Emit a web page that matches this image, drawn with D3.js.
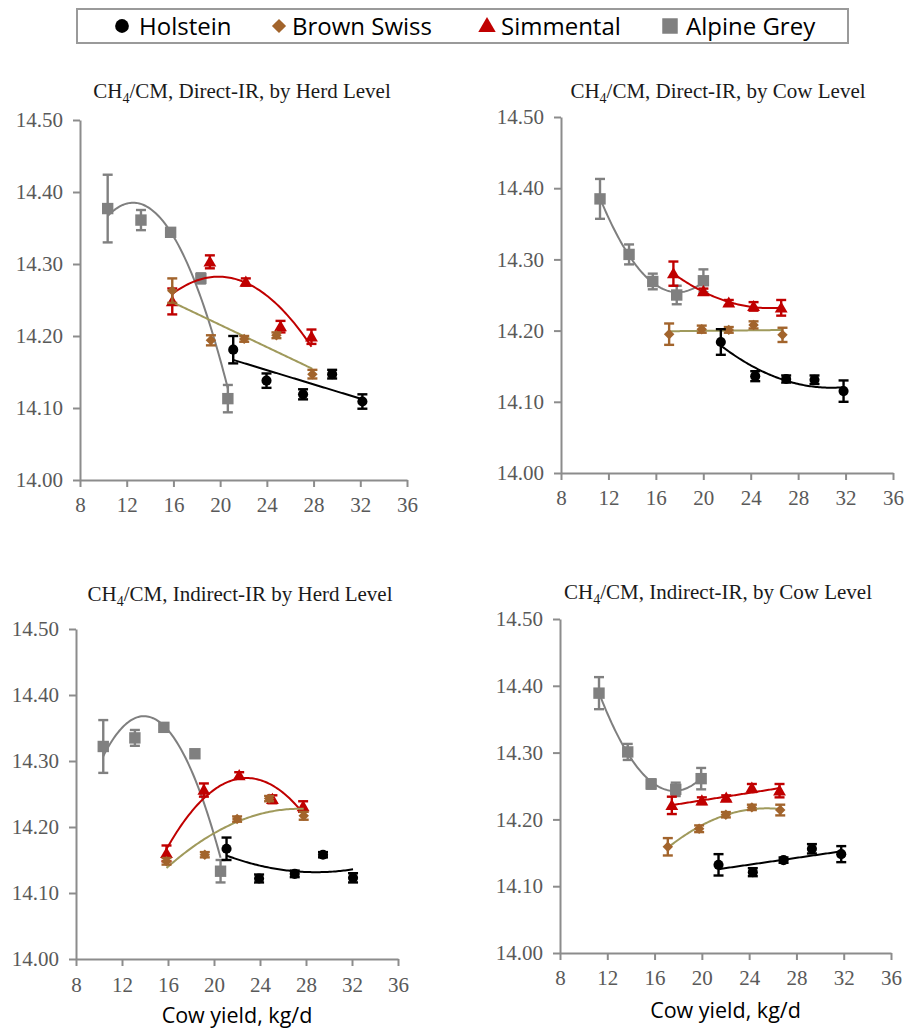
<!DOCTYPE html>
<html>
<head>
<meta charset="utf-8">
<script src="https://cdn.jsdelivr.net/npm/d3@7"></script>
<style>
  body { margin: 0; background: #fff; }
  svg { display: block; }
</style>
</head>
<body>
<svg id="chart"></svg>
<script>
// breeds and axis ticks
let breeds = ["Holstein", "Brown Swiss", "Simmental", "Alpine Grey"]
let xTicks = [8, 12, 16, 20, 24, 28, 32, 36]
let yTicks = [14.00, 14.10, 14.20, 14.30, 14.40, 14.50]
let xTitle = "Cow yield, kg/d"

// panel titles (the "4" is drawn as subscript)
let titleParts = [
  ["CH", "4", "/CM, Direct-IR, by Herd Level"],
  ["CH", "4", "/CM, Direct-IR, by Cow Level"],
  ["CH", "4", "/CM, Indirect-IR by Herd Level"],
  ["CH", "4", "/CM, Indirect-IR, by Cow Level"]
]

// [yield, CH4/CM, error] per breed and panel
let directHerdHolstein = [[21.12, 14.181, 0.019], [23.97, 14.138, 0.010], [27.10, 14.119, 0.007], [29.59, 14.147, 0.006], [32.18, 14.109, 0.010]]
let directHerdBrownSwiss = [[15.90, 14.263, 0.017], [19.21, 14.194, 0.007], [22.06, 14.196, 0.004], [24.82, 14.201, 0.004], [27.90, 14.147, 0.006]]
let directHerdSimmental = [[15.90, 14.248, 0.018], [19.12, 14.303, 0.009], [22.20, 14.275, 0.005], [25.17, 14.213, 0.008], [27.82, 14.199, 0.010]]
let directHerdAlpineGrey = [[10.37, 14.377, 0.047], [13.22, 14.361, 0.014], [15.76, 14.344, 0.003], [18.35, 14.280, 0.007], [20.66, 14.113, 0.019]]

let directCowHolstein = [[21.48, 14.184, 0.018], [24.38, 14.136, 0.007], [26.99, 14.132, 0.005], [29.38, 14.131, 0.006], [31.83, 14.115, 0.015]]
let directCowBrownSwiss = [[17.12, 14.195, 0.015], [19.87, 14.202, 0.005], [22.15, 14.201, 0.004], [24.24, 14.208, 0.005], [26.68, 14.194, 0.010]]
let directCowSimmental = [[17.48, 14.280, 0.017], [20.01, 14.255, 0.004], [22.15, 14.239, 0.004], [24.24, 14.234, 0.006], [26.57, 14.232, 0.011]]
let directCowAlpineGrey = [[11.29, 14.385, 0.028], [13.74, 14.307, 0.014], [15.74, 14.269, 0.011], [17.76, 14.250, 0.013], [20.01, 14.270, 0.016]]

let indirectHerdHolstein = [[21.09, 14.167, 0.017], [23.92, 14.122, 0.006], [27.02, 14.129, 0.005], [29.48, 14.158, 0.004], [32.09, 14.123, 0.007]]
let indirectHerdBrownSwiss = [[15.87, 14.148, 0.005], [19.20, 14.158, 0.004], [22.01, 14.212, 0.004], [24.79, 14.243, 0.004], [27.80, 14.217, 0.006]]
let indirectHerdSimmental = [[15.87, 14.160, 0.012], [19.12, 14.256, 0.010], [22.19, 14.278, 0.005], [25.08, 14.242, 0.006], [27.75, 14.231, 0.008]]
let indirectHerdAlpineGrey = [[10.37, 14.322, 0.040], [13.12, 14.335, 0.012], [15.64, 14.351, 0.003], [18.34, 14.311, 0.004], [20.57, 14.133, 0.017]]

let indirectCowHolstein = [[21.41, 14.132, 0.016], [24.31, 14.121, 0.006], [26.91, 14.139, 0.004], [29.31, 14.156, 0.007], [31.79, 14.148, 0.012]]
let indirectCowBrownSwiss = [[17.12, 14.159, 0.013], [19.77, 14.186, 0.005], [22.03, 14.207, 0.004], [24.23, 14.218, 0.004], [26.63, 14.214, 0.008]]
let indirectCowSimmental = [[17.46, 14.221, 0.013], [20.00, 14.228, 0.005], [22.06, 14.232, 0.004], [24.23, 14.247, 0.006], [26.57, 14.243, 0.010]]
let indirectCowAlpineGrey = [[11.30, 14.389, 0.024], [13.73, 14.301, 0.012], [15.71, 14.253, 0.007], [17.79, 14.245, 0.010], [19.94, 14.261, 0.016]]

// polynomial trend order per breed (Holstein, Brown Swiss, Simmental, Alpine Grey)
let directHerdOrder = [1, 1, 2, 2]
let directCowOrder = [2, 1, 2, 2]
let indirectHerdOrder = [2, 2, 2, 2]
let indirectCowOrder = [1, 2, 1, 2]

let panels = [
  { series: [directHerdHolstein, directHerdBrownSwiss, directHerdSimmental, directHerdAlpineGrey], order: directHerdOrder },
  { series: [directCowHolstein, directCowBrownSwiss, directCowSimmental, directCowAlpineGrey], order: directCowOrder },
  { series: [indirectHerdHolstein, indirectHerdBrownSwiss, indirectHerdSimmental, indirectHerdAlpineGrey], order: indirectHerdOrder },
  { series: [indirectCowHolstein, indirectCowBrownSwiss, indirectCowSimmental, indirectCowAlpineGrey], order: indirectCowOrder }
]

// layout
let w = 907
let h = 1029
let boxes = [
  { left: 80, right: 407, top: 120, bottom: 480, titleX: 242, titleY: 98, xLabY: 32, axTitleY: null },
  { left: 561, right: 893, top: 117, bottom: 473, titleX: 718, titleY: 98, xLabY: 32, axTitleY: null },
  { left: 76, right: 398, top: 629, bottom: 959, titleX: 240, titleY: 601, xLabY: 33, axTitleY: 1023 },
  { left: 560, right: 891, top: 619, bottom: 953, titleX: 718, titleY: 599, xLabY: 32, axTitleY: 1018 }
]
let markColor = ["#000000", "#A2642C", "#C00000", "#808080"]
let lineColor = ["#000000", "#A09A5C", "#C00000", "#7F7F7F"]
let axisColor = "#8C8C8C"

let svg = d3.select("#chart").attr("width", w).attr("height", h)

// least squares polynomial fit, returns a function
let polyfit = (pts, order) => {
  let m = d3.mean(pts, (d) => d[0])
  let n = order + 1
  let A = d3.range(n).map(() => d3.range(n + 1).map(() => 0))
  pts.forEach((p) => {
    let x = p[0] - m
    for (let i = 0; i < n; i++) {
      for (let j = 0; j < n; j++) A[i][j] += Math.pow(x, i + j)
      A[i][n] += p[1] * Math.pow(x, i)
    }
  })
  for (let c = 0; c < n; c++) {
    let piv = c
    for (let r = c + 1; r < n; r++) if (Math.abs(A[r][c]) > Math.abs(A[piv][c])) piv = r
    let tmp = A[c]; A[c] = A[piv]; A[piv] = tmp
    for (let r = 0; r < n; r++) {
      if (r === c) continue
      let f = A[r][c] / A[c][c]
      for (let k = c; k <= n; k++) A[r][k] -= f * A[c][k]
    }
  }
  let coef = d3.range(n).map((i) => A[i][n] / A[i][i])
  return (x) => coef.reduce((s, c, i) => s + c * Math.pow(x - m, i), 0)
}

let symbolFor = (i, s) => {
  if (i === 0) return d3.symbol().type(d3.symbolCircle).size(s * 0.62)()
  if (i === 1) return d3.symbol().type(d3.symbolSquare).size(s * 0.42)()
  if (i === 2) return d3.symbol().type(d3.symbolTriangle).size(s * 0.55)()
  return d3.symbol().type(d3.symbolSquare).size(s)()
}

// legend
let legend = svg.append("g")
legend.append("rect")
  .attr("x", 77).attr("y", 9).attr("width", 771).attr("height", 34)
  .attr("fill", "#fff").attr("stroke", "#9A9A9A").attr("stroke-width", 2)
let legX = [122, 279, 487, 670]
let legTextX = [139, 292, 501, 686]
breeds.forEach((b, i) => {
  legend.append("path")
    .attr("d", symbolFor(i, 240))
    .attr("transform", "translate(" + legX[i] + ",26)" + (i === 1 ? " rotate(45)" : "") + (i === 2 ? " translate(0,1)" : ""))
    .attr("fill", markColor[i])
  legend.append("text")
    .attr("x", legTextX[i]).attr("y", 35)
    .attr("font-family", "'Open Sans', sans-serif").attr("font-size", 24)
    .attr("fill", "#000")
    .text(b)
})

panels.forEach((p, pi) => {
  let b = boxes[pi]
  let x = d3.scaleLinear().domain([8, 36]).range([b.left, b.right])
  let y = d3.scaleLinear().domain([14.0, 14.5]).range([b.bottom, b.top])
  let g = svg.append("g")

  // title
  let t = g.append("text")
    .attr("x", b.titleX).attr("y", b.titleY)
    .attr("text-anchor", "middle")
    .attr("font-family", "'Liberation Serif', 'Times New Roman', serif")
    .attr("font-size", 21).attr("fill", "#1a1a1a")
  t.append("tspan").text(titleParts[pi][0])
  t.append("tspan").attr("font-size", 14).attr("dy", 5).text(titleParts[pi][1])
  t.append("tspan").attr("dy", -5).text(titleParts[pi][2])

  // axes
  let yAxis = d3.axisLeft(y).tickValues(yTicks).tickFormat(d3.format(".2f")).tickSize(7).tickSizeOuter(0).tickPadding(10)
  let xAxis = d3.axisBottom(x).tickValues(xTicks).tickSize(7).tickSizeOuter(0).tickPadding(10)

  let ya = g.append("g").attr("transform", "translate(" + b.left + ",0)").call(yAxis)
  let xa = g.append("g").attr("transform", "translate(0," + b.bottom + ")").call(xAxis)
  ;[ya, xa].forEach((a) => {
    a.select(".domain").attr("stroke", axisColor).attr("stroke-width", 2)
    a.selectAll(".tick line").attr("stroke", axisColor).attr("stroke-width", 2)
    a.selectAll(".tick text")
      .attr("font-family", "'Liberation Serif', 'Times New Roman', serif")
      .attr("font-size", 21).attr("fill", "#595959")
  })
  xa.selectAll(".tick text").attr("dy", null).attr("y", b.xLabY)

  if (b.axTitleY) {
    g.append("text")
      .attr("x", (b.left + b.right) / 2)
      .attr("y", b.axTitleY)
      .attr("text-anchor", "middle")
      .attr("font-family", "'Open Sans', sans-serif").attr("font-size", 21.5)
      .attr("fill", "#000")
      .text(xTitle)
  }

  // series: draw Alpine Grey first, Holstein last
  let drawOrder = [3, 2, 1, 0]
  drawOrder.forEach((si) => {
    let pts = p.series[si]
    let f = polyfit(pts, p.order[si])
    let x0 = d3.min(pts, (d) => d[0])
    let x1 = d3.max(pts, (d) => d[0])
    let xs = d3.range(x0, x1, (x1 - x0) / 80).concat([x1])
    g.append("path")
      .datum(xs)
      .attr("d", d3.line().x((d) => x(d)).y((d) => y(f(d))))
      .attr("fill", "none").attr("stroke", lineColor[si]).attr("stroke-width", 2)

    let eb = g.append("g").attr("stroke", markColor[si]).attr("stroke-width", 2.4)
    eb.selectAll(".v").data(pts).enter().append("line")
      .attr("x1", (d) => x(d[0])).attr("x2", (d) => x(d[0]))
      .attr("y1", (d) => y(d[1] - d[2])).attr("y2", (d) => y(d[1] + d[2]))
    eb.selectAll(".t").data(pts).enter().append("line")
      .attr("x1", (d) => x(d[0]) - 5).attr("x2", (d) => x(d[0]) + 5)
      .attr("y1", (d) => y(d[1] + d[2])).attr("y2", (d) => y(d[1] + d[2]))
    eb.selectAll(".b").data(pts).enter().append("line")
      .attr("x1", (d) => x(d[0]) - 5).attr("x2", (d) => x(d[0]) + 5)
      .attr("y1", (d) => y(d[1] - d[2])).attr("y2", (d) => y(d[1] - d[2]))

    g.selectAll(".m" + si).data(pts).enter().append("path")
      .attr("d", symbolFor(si, 130))
      .attr("transform", (d) => "translate(" + x(d[0]) + "," + y(d[1]) + ")" + (si === 1 ? " rotate(45)" : "") + (si === 2 ? " translate(0,1)" : ""))
      .attr("fill", markColor[si])
  })
})
</script>
</body>
</html>
